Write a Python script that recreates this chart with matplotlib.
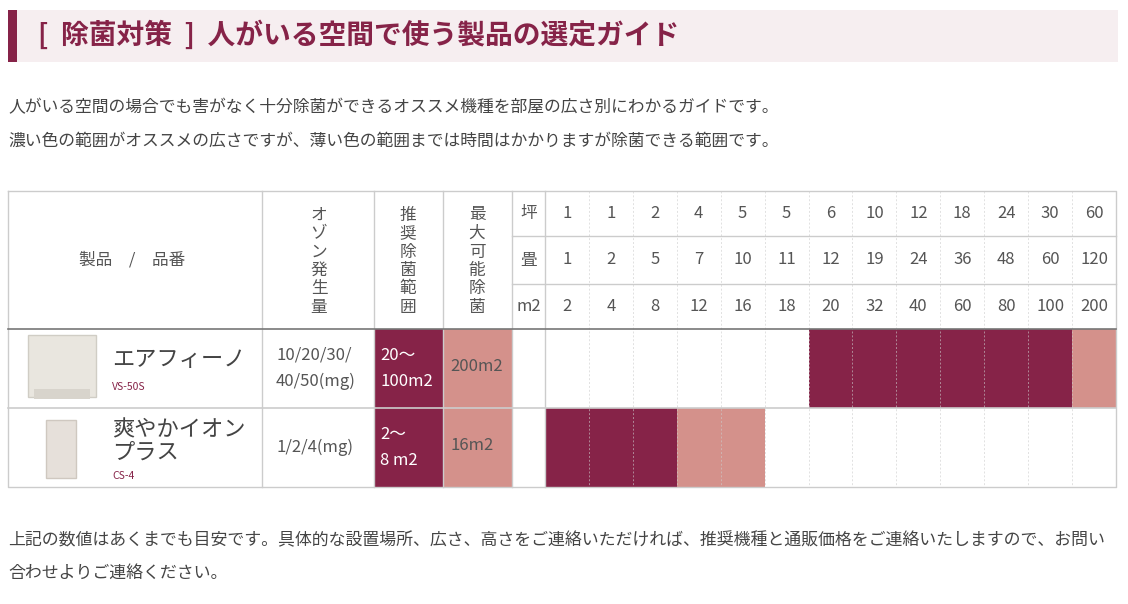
import matplotlib
matplotlib.use("Agg")
import matplotlib.pyplot as plt
from matplotlib.patches import Rectangle

plt.rcParams["font.family"] = "Noto Sans CJK JP"

title = "[ 除菌対策 ] 人がいる空間で使う製品の選定ガイド"
intro = ["人がいる空間の場合でも害がなく十分除菌ができるオススメ機種を部屋の広さ別にわかるガイドです。",
         "濃い色の範囲がオススメの広さですが、薄い色の範囲までは時間はかかりますが除菌できる範囲です。"]
outro = ["上記の数値はあくまでも目安です。具体的な設置場所、広さ、高さをご連絡いただければ、推奨機種と通販価格をご連絡いたしますので、お問い",
         "合わせよりご連絡ください。"]
tsubo = ["1", "1", "2", "4", "5", "5", "6", "10", "12", "18", "24", "30", "60"]
jo = ["1", "2", "5", "7", "10", "11", "12", "19", "24", "36", "48", "60", "120"]
m2 = ["2", "4", "8", "12", "16", "18", "20", "32", "40", "60", "80", "100", "200"]
products = ["エアフィーノ", "爽やかイオン\nプラス"]
codes = ["VS-50S", "CS-4"]
ozone = ["10/20/30/\n40/50(mg)", "1/2/4(mg)"]
recommend = ["20～\n100m2", "2～\n8 m2"]
maximum = ["200m2", "16m2"]
# 0 = none, 1 = possible (light), 2 = recommended (dark)
levels = [[0, 0, 0, 0, 0, 0, 2, 2, 2, 2, 2, 2, 1],
          [2, 2, 2, 1, 1, 0, 0, 0, 0, 0, 0, 0, 0]]

DARK = "#862348"
LIGHT = "#d4918b"
TXT = "#555555"
GRID = "#cccccc"

fig = plt.figure(figsize=(11.28, 6.04), dpi=100)
ax = fig.add_axes([0, 0, 1, 1])
ax.set_xlim(0, 1128); ax.set_ylim(604, 0); ax.axis("off")

ax.add_patch(Rectangle((8, 10), 1110, 52, color="#f6eef0", lw=0))
ax.add_patch(Rectangle((8, 10), 9, 52, color=DARK, lw=0))
ax.text(38, 35, title.replace(" ", "  "), color=DARK, fontsize=20, fontweight="bold", va="center")
for i, s in enumerate(intro):
    ax.text(8, 108 + 33 * i, s, color="#444444", fontsize=12.1, va="center")
for i, s in enumerate(outro):
    ax.text(8, 540 + 33 * i, s, color="#444444", fontsize=12.2, va="center")

L, R = 8, 1116
top = 191
rows = [329, 408, 487]
cols = [8, 262, 374, 443, 512, 545]
cw = (R - 545) / 13
cell_x = [545 + cw * k for k in range(14)]
hrows = [191, 236, 284, 329]

ax.add_patch(Rectangle((374, 329), 69, 158, color=DARK, lw=0))
ax.add_patch(Rectangle((443, 329), 69, 158, color=LIGHT, lw=0))
for r, lv in enumerate(levels):
    for k, v in enumerate(lv):
        if v:
            ax.add_patch(Rectangle((cell_x[k], rows[r]), cw, rows[r + 1] - rows[r],
                                   color=DARK if v == 2 else LIGHT, lw=0))

ax.plot([L, R, R, L, L], [top, top, 487, 487, top], color=GRID, lw=1)
for x in cols[1:]:
    ax.plot([x, x], [top, 487], color=GRID, lw=1)
for x in cell_x[1:-1]:
    ax.plot([x, x], [top, 487], color=GRID, lw=0.7, ls=(0, (2, 2)), alpha=0.6)
for y in hrows[1:3]:
    ax.plot([512, R], [y, y], color=GRID, lw=1)
ax.plot([L, R], [329, 329], color="#777777", lw=1.2)
ax.plot([L, R], [408, 408], color=GRID, lw=1.2)

ax.text(132, 260, "製品　/　品番", color=TXT, fontsize=12, ha="center", va="center")
for cx, s in [(319, "オゾン発生量"), (408, "推奨除菌範囲"), (477, "最大可能除菌")]:
    for j, ch in enumerate(s):
        ax.text(cx, 215 + 18.5 * j, ch, color=TXT, fontsize=12, ha="center", va="center")
for j, s in enumerate(["坪", "畳", "m2"]):
    yc = (hrows[j] + hrows[j + 1]) / 2
    ax.text(528.5, yc, s, color=TXT, fontsize=12, ha="center", va="center")
    for k, v in enumerate([tsubo, jo, m2][j]):
        ax.text(cell_x[k] + cw / 2, yc, v, color=TXT, fontsize=12, ha="center", va="center")

for r in range(2):
    y0, y1 = rows[r], rows[r + 1]
    yc = (y0 + y1) / 2
    if r == 0:
        ax.add_patch(Rectangle((28, 335), 68, 62, color="#e9e6df", ec="#d0cdc5", lw=1))
        ax.add_patch(Rectangle((34, 389), 56, 10, color="#d8d4cc", lw=0))
        ax.text(112, 360, products[r], color="#444444", fontsize=16, va="center")
        ax.text(112, 387, codes[r], color=DARK, fontsize=7.5, va="center")
    else:
        ax.add_patch(Rectangle((46, 420), 30, 58, color="#e6e0da", ec="#cfc8c0", lw=1))
        ax.text(112, 441, products[r], color="#444444", fontsize=16, va="center",
                linespacing=1.0)
        ax.text(112, 476, codes[r], color=DARK, fontsize=7.5, va="center")
    ax.text(276, yc, ozone[r], color=TXT, fontsize=12, va="center", linespacing=1.7)
    ax.text(380, yc, recommend[r], color="white", fontsize=12, va="center", linespacing=1.7)
    ax.text(450, yc - 2, maximum[r], color=TXT, fontsize=12, va="center")

fig.savefig("out.png", dpi=100, facecolor="white")
